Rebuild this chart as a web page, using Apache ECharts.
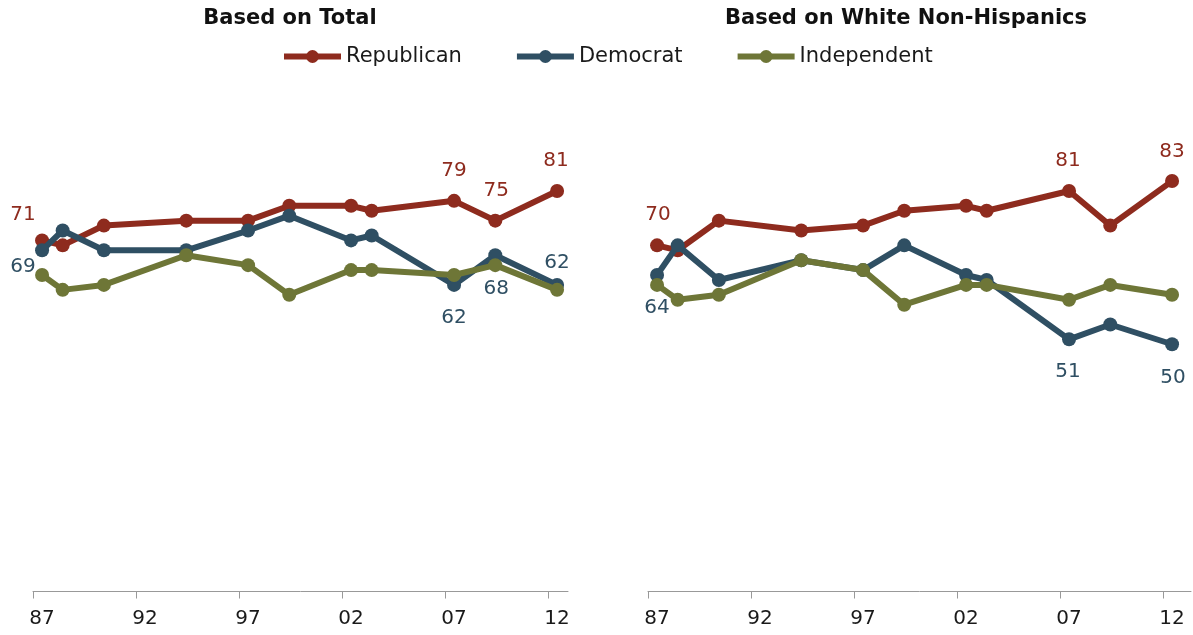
<!DOCTYPE html>
<html>
<head>
<meta charset="utf-8">
<script src="https://cdn.jsdelivr.net/npm/echarts@6/dist/echarts.min.js"></script>
<style>
  html, body { margin: 0; padding: 0; background: #ffffff; }
  #chart { width: 1193px; height: 635px; }
</style>
</head>
<body>
<div id="chart"></div>
<script>
// ---- data ----
const panelTitles = ['Based on Total', 'Based on White Non-Hispanics'];
const seriesNames = ['Republican', 'Democrat', 'Independent'];
const surveyYears = [1987, 1988, 1990, 1994, 1997, 1999, 2002, 2003, 2007, 2009, 2012];
const tickYears = [1987, 1992, 1997, 2002, 2007, 2012];

const totalRep = [71, 70, 74, 75, 75, 78, 78, 77, 79, 75, 81];
const totalDem = [69, 73, 69, 69, 73, 76, 71, 72, 62, 68, 62];
const totalInd = [64, 61, 62, 68, 66, 60, 65, 65, 64, 66, 61];

const whiteRep = [70, 69, 75, 73, 74, 77, 78, 77, 81, 74, 83];
const whiteDem = [64, 70, 63, 67, 65, 70, 64, 63, 51, 54, 50];
const whiteInd = [62, 59, 60, 67, 65, 58, 62, 62, 59, 62, 60];

// which points carry a value label (index -> label offset)
const labelSpecs = {
  'total-Republican': { 0: [-19, -26], 8: [0, -30], 9: [1, -30], 10: [-1, -30] },
  'total-Democrat':   { 0: [-19, 16], 8: [0, 33], 9: [1, 34], 10: [0, -22] },
  'white-Republican': { 0: [1, -31], 8: [-1, -30], 10: [0, -29] },
  'white-Democrat':   { 0: [0, 33], 8: [-1, 32], 10: [1, 34] }
};

const colors = { Republican: '#8e2b1e', Democrat: '#2f4f63', Independent: '#6e7637' };
const FONT = "'DejaVu Sans', Verdana, sans-serif";

function buildData(key, name, values) {
  const specs = labelSpecs[key + '-' + name] || {};
  return values.map((v, i) => {
    const item = { value: [surveyYears[i], v] };
    if (specs[i]) {
      item.label = {
        show: true,
        position: 'inside',
        offset: specs[i],
        formatter: String(v),
        color: colors[name],
        fontFamily: FONT,
        fontSize: 20
      };
    }
    return item;
  });
}

const panels = [
  { key: 'total', vals: [totalRep, totalDem, totalInd] },
  { key: 'white', vals: [whiteRep, whiteDem, whiteInd] }
];

const tickOffset = 0.44; // ticks sit between years, labels at the data year

const series = [];
panels.forEach((p, pi) => {
  seriesNames.forEach((name, si) => {
    series.push({
      name: name,
      type: 'line',
      xAxisIndex: pi,
      yAxisIndex: pi,
      data: buildData(p.key, name, p.vals[si]),
      symbol: 'circle',
      symbolSize: 14,
      showSymbol: true,
      lineStyle: { width: 6, color: colors[name] },
      itemStyle: { color: colors[name] },
      label: { show: false },
      emphasis: { disabled: true },
      z: 2 + si
    });
  });
});

function makeXAxis(gridIndex, max) {
  return {
    type: 'value',
    gridIndex: gridIndex,
    min: tickYears[0] - tickOffset,
    max: max,
    splitLine: { show: false },
    axisLine: { show: true, lineStyle: { color: '#999999', width: 1 } },
    axisTick: {
      show: true,
      length: 7,
      lineStyle: { color: '#999999' },
      customValues: tickYears.map(y => y - tickOffset)
    },
    axisLabel: {
      show: true,
      customValues: tickYears,
      formatter: v => String(Math.round(v) % 100).padStart(2, '0'),
      color: '#1a1a1a',
      fontFamily: FONT,
      fontSize: 20,
      margin: 15
    }
  };
}

function makeYAxis(gridIndex) {
  return {
    type: 'value',
    gridIndex: gridIndex,
    min: -0.5,
    max: 100,
    show: false,
    splitLine: { show: false }
  };
}

const chart = echarts.init(document.getElementById('chart'), null, { renderer: 'canvas' });
chart.setOption({
  animation: false,
  backgroundColor: '#ffffff',
  grid: [
    { left: 33, width: 535, top: 97, height: 497 },
    { left: 648, width: 543, top: 97, height: 497 }
  ],
  xAxis: [makeXAxis(0, 2012.53), makeXAxis(1, 2012.92)],
  yAxis: [makeYAxis(0), makeYAxis(1)],
  legend: {
    data: seriesNames,
    left: 276,
    top: 41,
    itemWidth: 57,
    itemHeight: 16,
    itemGap: 52,
    lineStyle: { width: 6 },
    textStyle: { fontFamily: FONT, fontSize: 21, color: '#1a1a1a' },
    selectedMode: false
  },
  graphic: [
    {
      type: 'text', x: 290, y: 19,
      style: { text: panelTitles[0], font: "bold 21px 'DejaVu Sans', Verdana, sans-serif",
               fill: '#111111', textAlign: 'center', textVerticalAlign: 'middle' }
    },
    {
      type: 'text', x: 906, y: 19,
      style: { text: panelTitles[1], font: "bold 21px 'DejaVu Sans', Verdana, sans-serif",
               fill: '#111111', textAlign: 'center', textVerticalAlign: 'middle' }
    }
  ],
  series: series
});
</script>
</body>
</html>
